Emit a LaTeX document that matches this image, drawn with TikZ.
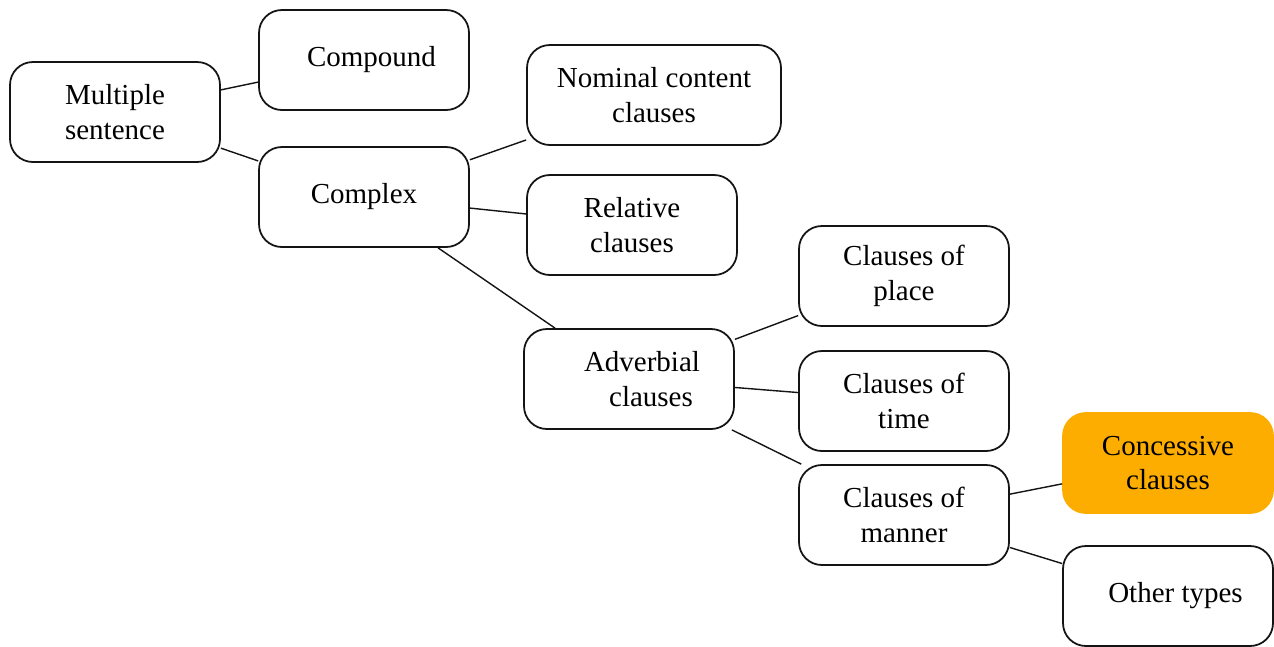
\documentclass[tikz,border=0pt]{standalone}
\usepackage{fontspec}
\setmainfont{Liberation Serif}
\usepackage{tikz}
\usetikzlibrary{positioning}
\definecolor{conorange}{RGB}{253,173,0}
\definecolor{boxline}{RGB}{20,20,20}
\tikzset{
  clbox/.style={draw=boxline, line width=1pt, fill=white, rounded corners=13pt,
                minimum width=4.2cm, minimum height=2.0cm, align=center,
                font=\fontsize{16.5}{19.5}\selectfont},
  widebox/.style={clbox, minimum width=5.08cm},
  hlbox/.style={clbox, draw=conorange, fill=conorange},
  clink/.style={boxline, line width=0.8pt},
}

\begin{document}
\begin{tikzpicture}
    \useasboundingbox (0,0) rectangle (25.48,-12.92);
    % left part of the tree
    \node[clbox] (multi) at (2.3,-2.24) {Multiple\\sentence};
    \node[clbox] (compound) at (7.28,-1.2) {\hspace*{0.3cm}Compound};
    \node[clbox] (complex) at (7.28,-3.94) {Complex};
    % kinds of complex sentence
    \node[widebox] (nominal) at (13.08,-1.9) {Nominal content\\clauses};
    \node[clbox] (relative) at (12.64,-4.5) {Relative\\clauses};
    \node[clbox] (adverbial) at (12.58,-7.58)
      {\hspace*{0.52cm}Adverbial\\\hspace*{0.88cm}clauses};
    % adverbial clauses
    \node[clbox] (place) at (18.08,-5.52) {Clauses of\\place};
    \node[clbox] (time) at (18.08,-8.02) {Clauses of\\time};
    \node[clbox] (manner) at (18.08,-10.3) {Clauses of\\manner};
    \node[hlbox] (concessive) at (23.36,-9.26) {Concessive\\clauses};
    \node[clbox] (other) at (23.36,-11.92) {\hspace*{0.3cm}Other types};
    % connectors
    \draw[clink] (multi) -- (compound);
    \draw[clink] (multi) -- (complex);
    \draw[clink] (complex) -- (nominal);
    \draw[clink] (complex) -- (relative);
    \draw[clink] (complex) -- (adverbial);
    \draw[clink] (adverbial) -- (place);
    \draw[clink] (adverbial) -- (time);
    \draw[clink] (adverbial) -- (manner);
    \draw[clink] (manner) -- (concessive);
    \draw[clink] (manner) -- (other);
  \end{tikzpicture}
\end{document}
